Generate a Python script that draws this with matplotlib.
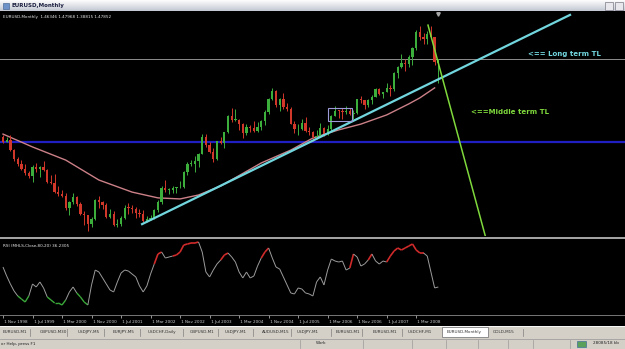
import matplotlib
matplotlib.use("Agg")
import matplotlib.pyplot as plt
import numpy as np
from matplotlib.collections import LineCollection
from matplotlib.colors import LinearSegmentedColormap
from matplotlib.patches import Rectangle

W, H = 625, 349

# EURUSD monthly bars, Nov 1998 .. Sep 2008 (index = month number)
opens = [1.180, 1.163, 1.171, 1.131, 1.098, 1.077, 1.058, 1.043, 1.034, 1.068,
         1.058, 1.068, 1.055, 1.008, 1.007, 0.971, 0.965, 0.957, 0.912, 0.932,
         0.954, 0.924, 0.888, 0.883, 0.848, 0.870, 0.940, 0.934, 0.922, 0.877,
         0.886, 0.847, 0.849, 0.873, 0.912, 0.911, 0.905, 0.890, 0.888, 0.862,
         0.868, 0.872, 0.902, 0.934, 0.987, 0.978, 0.980, 0.986, 0.989, 0.992,
         1.049, 1.077, 1.078, 1.091, 1.117, 1.180, 1.150, 1.124, 1.098, 1.165,
         1.158, 1.199, 1.259, 1.246, 1.246, 1.229, 1.196, 1.220, 1.217, 1.202,
         1.218, 1.243, 1.276, 1.327, 1.356, 1.304, 1.325, 1.296, 1.287, 1.230,
         1.210, 1.213, 1.234, 1.202, 1.199, 1.179, 1.184, 1.215, 1.192, 1.212,
         1.262, 1.281, 1.279, 1.277, 1.280, 1.268, 1.274, 1.325, 1.320, 1.302,
         1.323, 1.335, 1.365, 1.345, 1.353, 1.368, 1.363, 1.426, 1.448, 1.463,
         1.459, 1.486, 1.518, 1.579, 1.561, 1.554, 1.575, 1.560, 1.4635]
highs = [1.189, 1.180, 1.190, 1.137, 1.104, 1.092, 1.077, 1.052, 1.076, 1.080,
         1.071, 1.090, 1.060, 1.036, 1.040, 0.995, 0.980, 0.968, 0.936, 0.966,
         0.958, 0.932, 0.900, 0.885, 0.877, 0.946, 0.957, 0.939, 0.930, 0.908,
         0.899, 0.868, 0.881, 0.923, 0.930, 0.922, 0.913, 0.906, 0.904, 0.880,
         0.885, 0.905, 0.940, 0.993, 1.019, 0.987, 0.996, 0.992, 1.014, 1.050,
         1.087, 1.093, 1.108, 1.120, 1.194, 1.193, 1.160, 1.139, 1.166, 1.180,
         1.200, 1.263, 1.290, 1.287, 1.250, 1.235, 1.229, 1.228, 1.240, 1.238,
         1.244, 1.282, 1.330, 1.367, 1.358, 1.328, 1.349, 1.310, 1.296, 1.240,
         1.232, 1.250, 1.257, 1.218, 1.204, 1.209, 1.235, 1.220, 1.225, 1.264,
         1.298, 1.285, 1.290, 1.298, 1.290, 1.285, 1.327, 1.336, 1.323, 1.326,
         1.340, 1.368, 1.368, 1.354, 1.385, 1.380, 1.427, 1.450, 1.498, 1.477,
         1.493, 1.523, 1.590, 1.602, 1.577, 1.584, 1.604, 1.562, 1.4797]
lows = [1.159, 1.160, 1.129, 1.088, 1.069, 1.054, 1.036, 1.026, 1.011, 1.046,
        1.030, 1.050, 1.005, 1.000, 0.969, 0.956, 0.951, 0.902, 0.884, 0.925,
        0.919, 0.883, 0.846, 0.823, 0.838, 0.866, 0.912, 0.906, 0.872, 0.872,
        0.843, 0.837, 0.843, 0.870, 0.889, 0.890, 0.874, 0.875, 0.856, 0.858,
        0.863, 0.869, 0.897, 0.926, 0.971, 0.963, 0.968, 0.967, 0.985, 0.988,
        1.035, 1.070, 1.046, 1.068, 1.116, 1.141, 1.121, 1.084, 1.092, 1.154,
        1.139, 1.195, 1.238, 1.240, 1.208, 1.176, 1.190, 1.201, 1.200, 1.200,
        1.208, 1.226, 1.270, 1.320, 1.296, 1.281, 1.288, 1.279, 1.229, 1.198,
        1.187, 1.208, 1.200, 1.189, 1.164, 1.173, 1.180, 1.183, 1.187, 1.200,
        1.260, 1.252, 1.251, 1.270, 1.264, 1.249, 1.270, 1.309, 1.286, 1.295,
        1.306, 1.334, 1.341, 1.330, 1.352, 1.337, 1.356, 1.405, 1.445, 1.432,
        1.448, 1.456, 1.511, 1.551, 1.537, 1.536, 1.559, 1.457, 1.3882]
closes = [1.163, 1.171, 1.131, 1.098, 1.077, 1.058, 1.043, 1.034, 1.068, 1.058,
          1.068, 1.055, 1.008, 1.007, 0.971, 0.965, 0.957, 0.912, 0.932, 0.954,
          0.924, 0.888, 0.883, 0.848, 0.870, 0.940, 0.934, 0.922, 0.877, 0.886,
          0.847, 0.849, 0.873, 0.912, 0.911, 0.905, 0.890, 0.888, 0.862, 0.868,
          0.872, 0.902, 0.934, 0.987, 0.978, 0.980, 0.986, 0.989, 0.992, 1.049,
          1.077, 1.078, 1.091, 1.117, 1.180, 1.150, 1.124, 1.098, 1.165, 1.158,
          1.199, 1.259, 1.246, 1.246, 1.229, 1.196, 1.220, 1.217, 1.202, 1.218,
          1.243, 1.276, 1.327, 1.356, 1.304, 1.325, 1.296, 1.287, 1.230, 1.210,
          1.213, 1.234, 1.202, 1.199, 1.179, 1.184, 1.215, 1.192, 1.212, 1.262,
          1.281, 1.279, 1.277, 1.280, 1.268, 1.274, 1.325, 1.320, 1.302, 1.323,
          1.335, 1.365, 1.345, 1.353, 1.368, 1.363, 1.426, 1.448, 1.463, 1.459,
          1.486, 1.518, 1.579, 1.561, 1.554, 1.575, 1.560, 1.467, 1.4785]

# long moving average
ma_months = [0, 8, 17, 26, 35, 42, 48, 53, 59, 70, 78, 84, 91, 97, 104, 110, 113, 117]
ma_values = [1.192, 1.143, 1.093, 1.017, 0.971, 0.949, 0.945, 0.960, 0.994, 1.082,
             1.131, 1.177, 1.208, 1.230, 1.265, 1.307, 1.330, 1.368]

rsi = [62.3, 50.6, 40.3, 31.2, 24.7, 20.8, 16.9, 24.7, 40.3, 36.4,
       42.9, 35.1, 23.4, 19.5, 15.6, 15.6, 13.0, 19.5, 29.9, 36.4,
       28.6, 23.4, 16.9, 13.0, 39.0, 58.4, 55.8, 48.1, 40.3, 32.5,
       29.9, 42.9, 54.5, 58.4, 57.1, 53.2, 49.4, 37.7, 29.9, 37.7,
       53.2, 66.2, 79.2, 81.8, 74.0, 75.3, 76.6, 77.9, 81.8, 90.9,
       92.2, 93.5, 93.5, 94.8, 81.8, 55.8, 49.4, 58.4, 66.2, 71.4,
       77.9, 80.5, 75.3, 68.8, 55.8, 48.1, 55.8, 48.1, 50.6, 63.6,
       74.0, 81.8, 87.0, 74.0, 62.3, 59.7, 49.4, 39.0, 28.6, 27.3,
       35.1, 33.8, 28.6, 27.3, 24.7, 42.9, 49.4, 39.0, 58.4, 72.7,
       70.1, 68.8, 70.1, 58.4, 61.0, 79.2, 75.3, 63.6, 66.2, 71.4,
       79.2, 70.1, 66.2, 70.1, 68.8, 76.6, 83.1, 87.0, 84.4, 87.0,
       89.6, 92.2, 84.4, 80.5, 80.5, 76.6, 55.8, 35.1, 36.4]
red_spans = [(41, 43), (46, 53), (59, 61), (70, 72), (94, 95), (99, 100), (104, 114)]
green_spans = [(4, 7), (12, 17), (20, 23)]

tick_months = [0, 8, 16, 24, 32, 40, 48, 56, 64, 72, 80, 88, 96, 104, 112]
tick_labels = ["1 Nov 1998", "1 Jul 1999", "1 Mar 2000", "1 Nov 2000", "1 Jul 2001",
               "1 Mar 2002", "1 Nov 2002", "1 Jul 2003", "1 Mar 2004", "1 Nov 2004",
               "1 Jul 2005", "1 Mar 2006", "1 Nov 2006", "1 Jul 2007", "1 Mar 2008"]

support_level = 1.162
bid = 1.4785
long_tl_x = [37.7, 153.7]
long_tl_y = [0.849, 1.646]
mid_tl_x = [115.2, 131.0]
mid_tl_y = [1.607, 0.79]
box_x = [88.0, 94.6]
box_y = [1.241, 1.292]

tabs = ["EURUSD,M1", "GBPUSD,M30", "USDJPY,M5", "EURJPY,M5", "USDCHF,Daily",
        "GBPUSD,M1", "USDJPY,M1", "AUDUSD,M15", "USDJPY,M1", "EURUSD,M1",
        "EURUSD,M1", "USDCHF,M1", "EURUSD,Monthly", "GOLD,M15"]
tab_x = [3, 40, 78, 113, 148, 190, 225, 262, 297, 336, 373, 408, 447, 493]
tab_sep = [30, 67, 104, 140, 183, 218, 253, 291, 331, 362, 402, 523]

XL = (-0.81, 168.6)

fig = plt.figure(figsize=(W / 100, H / 100), dpi=100)
fig.patch.set_facecolor("#d4d0c8")


def pane(x, y, w, h):
    return fig.add_axes([x / W, 1 - (y + h) / H, w / W, h / H])


# title bar
tb = pane(0, 0, W, 11)
grad = LinearSegmentedColormap.from_list("bar", ["#fdfdfd", "#c3c8d2"])
tb.imshow(np.linspace(0, 1, 20)[:, None], aspect="auto", cmap=grad, extent=(0, W, 11, 0))
tb.set_xlim(0, W)
tb.set_ylim(11, 0)
tb.axis("off")
tb.add_patch(Rectangle((3, 2.5), 6, 6, fc="#6d93c8", ec="#3a5a8a", lw=0.4))
tb.text(12, 5.8, "EURUSD,Monthly", fontsize=4, fontweight="bold", color="#1c2040", va="center")
tb.add_patch(Rectangle((605, 2), 8, 7.5, fc="#e8e8ec", ec="#7a7a86", lw=0.5))
tb.add_patch(Rectangle((615, 2), 8, 7.5, fc="#e8e8ec", ec="#7a7a86", lw=0.5))

# black chart window
fig.add_artist(Rectangle((0, 1 - 326 / H), 1, 315 / H, transform=fig.transFigure,
                         fc="black", ec="none", zorder=0))

# main price pane
ax = pane(0, 12, W, 224)
ax.set_facecolor("black")
for s in ax.spines.values():
    s.set_visible(False)
ax.set_xticks([])
ax.set_yticks([])
ax.set_xlim(*XL)
ax.set_ylim(0.8038, 1.657)

ax.axhline(support_level, color="#1f1fc4", lw=1.6, zorder=1)
ax.axhline(bid, color="#8e8e8e", lw=0.7, zorder=1)

o, h, l, c = map(np.array, (opens, highs, lows, closes))
x = np.arange(len(c))
col = np.where(c >= o, "#3cae3c", "#d2382a")
ax.vlines(x, l, h, colors=col, lw=0.7, zorder=3)
ax.bar(x, np.maximum(np.abs(c - o), 0.003), bottom=np.minimum(o, c), width=0.62,
       color=col, lw=0, zorder=3)

ax.plot(ma_months, ma_values, color="#cc8088", lw=1.0, zorder=2)
ax.plot(long_tl_x, long_tl_y, color="#72d6de", lw=1.6, zorder=4)
ax.plot(mid_tl_x, mid_tl_y, color="#7fd83c", lw=1.1, zorder=4)
ax.add_patch(Rectangle((box_x[0], box_y[0]), box_x[1] - box_x[0], box_y[1] - box_y[0],
                       fill=False, ec="#9c9ad8", lw=0.8, zorder=4))
ax.plot([len(c) - 1], [1.650], marker="v", ms=2.5, color="#a8a8a8", zorder=5)

ax.text(142.3, 1.497, "<== Long term TL", color="#72d6de", fontsize=5,
        fontweight="bold", va="center")
ax.text(126.8, 1.276, "<==Middle term TL", color="#7fd83c", fontsize=5,
        fontweight="bold", va="center")
ax.text(0.005, 0.978, "EURUSD,Monthly  1.46346 1.47968 1.38815 1.47852",
        transform=ax.transAxes, color="#e8e8e8", fontsize=3, va="center")

# RSI pane
ar = pane(0, 238, W, 77)
ar.set_facecolor("black")
ar.set_xlim(*XL)
ar.set_ylim(0, 100)
for k in ("left", "right"):
    ar.spines[k].set_visible(False)
ar.spines["top"].set_color("#b4b4b4")
ar.spines["top"].set_linewidth(1.3)
ar.spines["bottom"].set_color("#8a8a8a")
ar.spines["bottom"].set_linewidth(0.6)
ar.set_yticks([])
ar.set_xticks(tick_months, [" " + t for t in tick_labels])
ar.tick_params(axis="x", colors="#cfcfcf", labelsize=3, length=2.5, width=0.5, pad=0.8)
for lab in ar.get_xticklabels():
    lab.set_ha("left")

pts = np.column_stack([np.arange(len(rsi)), rsi])
segs = np.stack([pts[:-1], pts[1:]], axis=1)
seg_col = ["#9c9c9c"] * len(segs)
seg_lw = [0.7] * len(segs)
for a, b in red_spans:
    for i in range(a, b):
        seg_col[i] = "#d02a2a"
        seg_lw[i] = 1.2
for a, b in green_spans:
    for i in range(a, b):
        seg_col[i] = "#3aa83a"
        seg_lw[i] = 1.0
ar.add_collection(LineCollection(segs, colors=seg_col, linewidths=seg_lw))
ar.text(0.005, 0.9, "RSI (MHLS,Close,80,20) 36.2305", transform=ar.transAxes,
        color="#e8e8e8", fontsize=3, va="center")

# symbol tabs
tt = pane(0, 326, W, 12)
tt.set_xlim(0, W)
tt.set_ylim(12, 0)
tt.axis("off")
tt.axhline(0.4, color="#ffffff", lw=0.6)
tt.add_patch(Rectangle((442, 0.5), 46, 10.5, fc="white", ec="#808080", lw=0.6))
for t, tx in zip(tabs, tab_x):
    tt.text(tx, 6, t, fontsize=3, color="#303030", va="center")
for sx in tab_sep:
    tt.plot([sx, sx], [2.5, 9.5], color="#808080", lw=0.5)

# status bar
sb = pane(0, 338, W, 11)
sb.set_xlim(0, W)
sb.set_ylim(11, 0)
sb.axis("off")
sb.axhline(0.5, color="#a0a0a0", lw=0.6)
sb.text(1, 5.5, "or Help, press F1", fontsize=3, color="#202020", va="center")
sb.text(316, 5.5, "Work", fontsize=3, color="#202020", va="center")
for sx in [300, 363, 412, 446, 478, 508, 533, 570]:
    sb.plot([sx, sx], [1.5, 10], color="#9a9a9a", lw=0.5)
sb.add_patch(Rectangle((577, 2.5), 9, 6, fc="#5aa05a", ec="#2f5f9f", lw=0.4))
sb.text(593, 5.5, "28085/18 kb", fontsize=3, color="#202020", va="center")

fig.savefig("out.png", dpi=100, facecolor=fig.get_facecolor())
